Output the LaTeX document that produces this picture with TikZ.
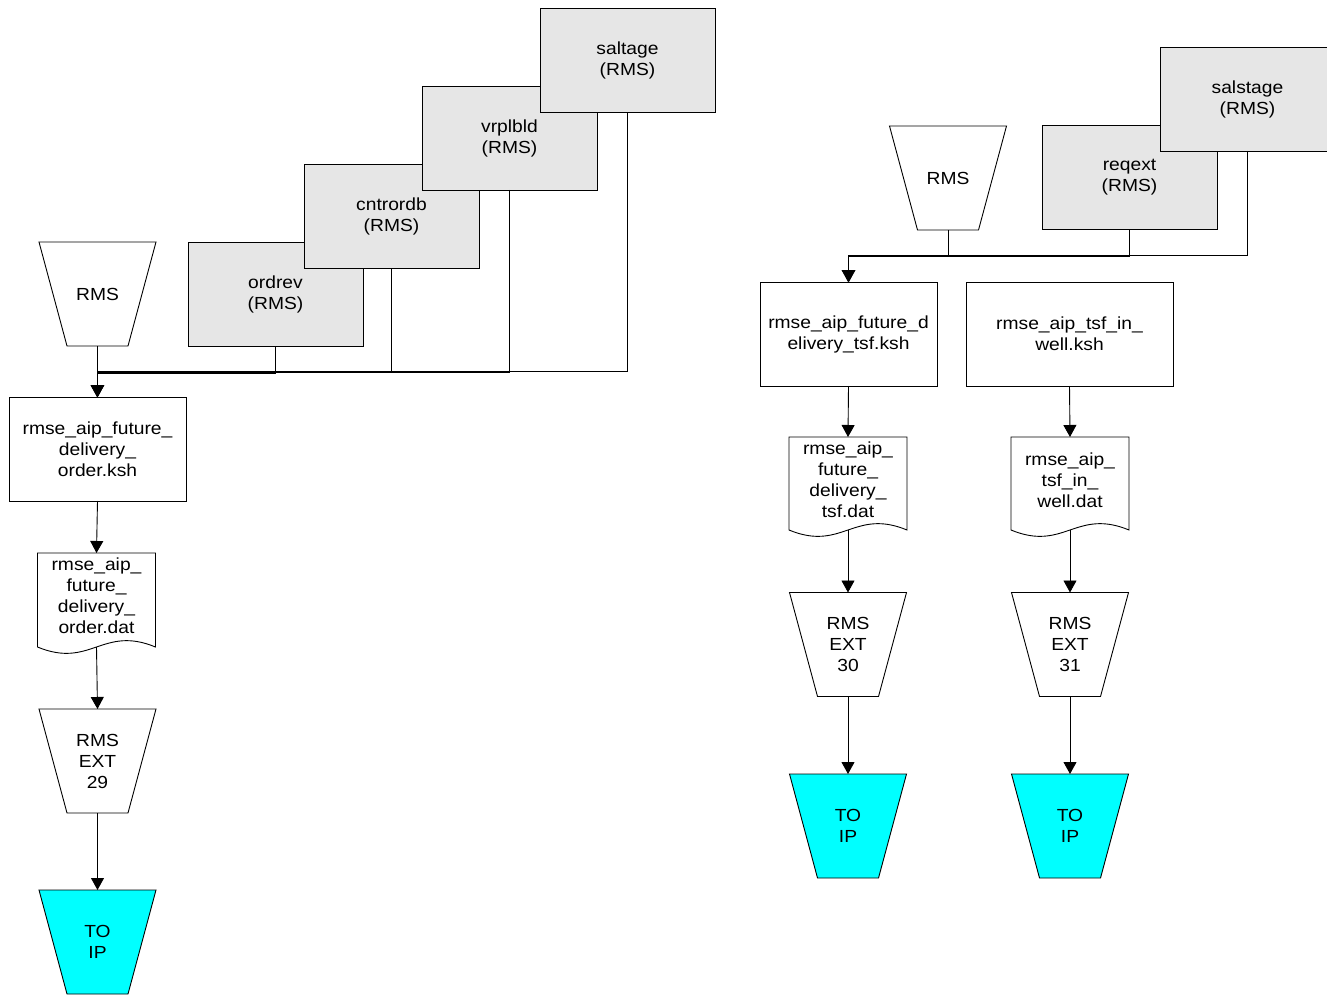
\documentclass[tikz,border=0pt]{standalone}
\usepackage{fontspec}
\setmainfont{Liberation Sans}[FakeStretch=1.1]
\usetikzlibrary{arrows.meta,calc}
\definecolor{boxgray}{HTML}{E6E6E6}
\definecolor{toipcyan}{HTML}{00FFFF}
% trapezoid: name, position, fill, text
\newcommand{\mytrap}[4]{%
  \begin{scope}[shift={#2}]
    \draw[line width=0.9pt, fill=#3] (-58.5,-52) -- (58.5,-52) -- (30.5,52) -- (-30.5,52) -- cycle;
  \end{scope}
  \node[trapnode] (#1) at #2 {#4};
}
\begin{document}
\begin{tikzpicture}[x=1pt,y=-1pt,
  every node/.style={font=\fontsize{17.5pt}{21pt}\selectfont, align=center, inner sep=0pt, outer sep=0pt},
  ln/.style={line width=0.9pt, draw=black},
  arr/.style={ln, -{Triangle[length=12pt,width=13pt]}},
  srcbox/.style={draw, line width=0.9pt, fill=boxgray, minimum width=175pt, minimum height=104pt},
  procbox/.style={draw, line width=0.9pt, fill=white, minimum height=104pt},
  trapnode/.style={minimum width=117pt, minimum height=104pt},
  docnode/.style={minimum width=118pt, minimum height=86pt},
  docline/.style={line width=0.9pt, draw=black, fill=white},
]
\useasboundingbox (0,0) rectangle (1327,995);

% ---------- left group ----------
\mytrap{rms1}{(97.5,294)}{white}{RMS}
\node[srcbox] (ordrev) at (275.5,294) {ordrev\\(RMS)};
\node[srcbox] (cntrordb) at (391.5,216) {cntrordb\\(RMS)};
\node[srcbox] (vrplbld) at (509.5,138) {vrplbld\\(RMS)};
\node[srcbox] (saltage) at (627.5,60.5) {saltage\\(RMS)};

\node[procbox, minimum width=177pt] (ksh1) at (97.5,449) {rmse\_aip\_future\_\\delivery\_\\order.ksh};

\node[docnode] (dat1) at (96.5,596) {};
\draw[docline] (dat1.north west) -- (dat1.north east) -- ($(dat1.south east)+(0,8)$)
  .. controls ($(dat1.south)+(5.9,-14)$) and ($(dat1.south)+(-5.9,30)$) .. ($(dat1.south west)+(0,8)$) -- cycle;
\node at (dat1) {rmse\_aip\_\\future\_\\delivery\_\\order.dat};
\coordinate (dat1b) at ($(dat1.south)+(0,8)$);

\mytrap{ext29}{(97.5,761)}{white}{RMS\\EXT\\29}
\mytrap{toip1}{(97.5,942)}{toipcyan}{TO\\IP}

\coordinate (jL1) at (97.5,373);
\coordinate (jL2) at (97.5,372.5);
\coordinate (jL3) at (97.5,372);
\coordinate (jL4) at (97.5,371.5);
\draw[arr] (rms1.south) -- (ksh1.north);
\draw[arr] (ordrev.south) |- ([xshift=-0.5pt]jL1) -- ([xshift=-0.5pt]ksh1.north);
\draw[arr] (cntrordb.south) |- ([xshift=0.3pt]jL2) -- ([xshift=0.3pt]ksh1.north);
\draw[arr] (vrplbld.south) |- (jL3) -- (ksh1.north);
\draw[arr] (saltage.south) |- (jL4) -- (ksh1.north);
\draw[arr] (ksh1.south) -- (dat1.north);
\draw[arr] (dat1b) -- (ext29.north);
\draw[arr] (ext29.south) -- (toip1.north);

% ---------- right group ----------
\mytrap{rms2}{(948,178)}{white}{RMS}
\node[srcbox] (reqext) at (1129.5,177) {reqext\\(RMS)};
\node[srcbox] (salstage) at (1247.5,99) {salstage\\(RMS)};

\node[procbox, minimum width=177pt] (ksh2) at (848.5,334) {rmse\_aip\_future\_d\\elivery\_tsf.ksh};
\node[procbox, minimum width=207pt] (ksh3) at (1069.5,334) {rmse\_aip\_tsf\_in\_\\well.ksh};

\node[docnode] (dat2) at (848,480) {};
\draw[docline] (dat2.north west) -- (dat2.north east) -- ($(dat2.south east)+(0,7)$)
  .. controls ($(dat2.south)+(5.9,-15)$) and ($(dat2.south)+(-5.9,29)$) .. ($(dat2.south west)+(0,7)$) -- cycle;
\node at (dat2) {rmse\_aip\_\\future\_\\delivery\_\\tsf.dat};
\coordinate (dat2b) at ($(dat2.south)+(0,7)$);

\node[docnode] (dat3) at (1070,480) {};
\draw[docline] (dat3.north west) -- (dat3.north east) -- ($(dat3.south east)+(0,7)$)
  .. controls ($(dat3.south)+(5.9,-15)$) and ($(dat3.south)+(-5.9,29)$) .. ($(dat3.south west)+(0,7)$) -- cycle;
\node at (dat3) {rmse\_aip\_\\tsf\_in\_\\well.dat};
\coordinate (dat3b) at ($(dat3.south)+(0,7)$);

\mytrap{ext30}{(848,644.5)}{white}{RMS\\EXT\\30}
\mytrap{ext31}{(1070,644.5)}{white}{RMS\\EXT\\31}
\mytrap{toip2}{(848,826)}{toipcyan}{TO\\IP}
\mytrap{toip3}{(1070,826)}{toipcyan}{TO\\IP}

\coordinate (jR1) at (848.5,256.5);
\coordinate (jR2) at (848.5,256);
\coordinate (jR3) at (848.5,255.5);
\draw[arr] (rms2.south) |- ([xshift=-0.4pt]jR1) -- ([xshift=-0.4pt]ksh2.north);
\draw[arr] (reqext.south) |- ([xshift=0.4pt]jR2) -- ([xshift=0.4pt]ksh2.north);
\draw[arr] (salstage.south) |- (jR3) -- (ksh2.north);
\draw[arr] (ksh2.south) -- (dat2.north);
\draw[arr] (ksh3.south) -- (dat3.north);
\draw[arr] (dat2b) -- (ext30.north);
\draw[arr] (dat3b) -- (ext31.north);
\draw[arr] (ext30.south) -- (toip2.north);
\draw[arr] (ext31.south) -- (toip3.north);
\end{tikzpicture}
\end{document}
